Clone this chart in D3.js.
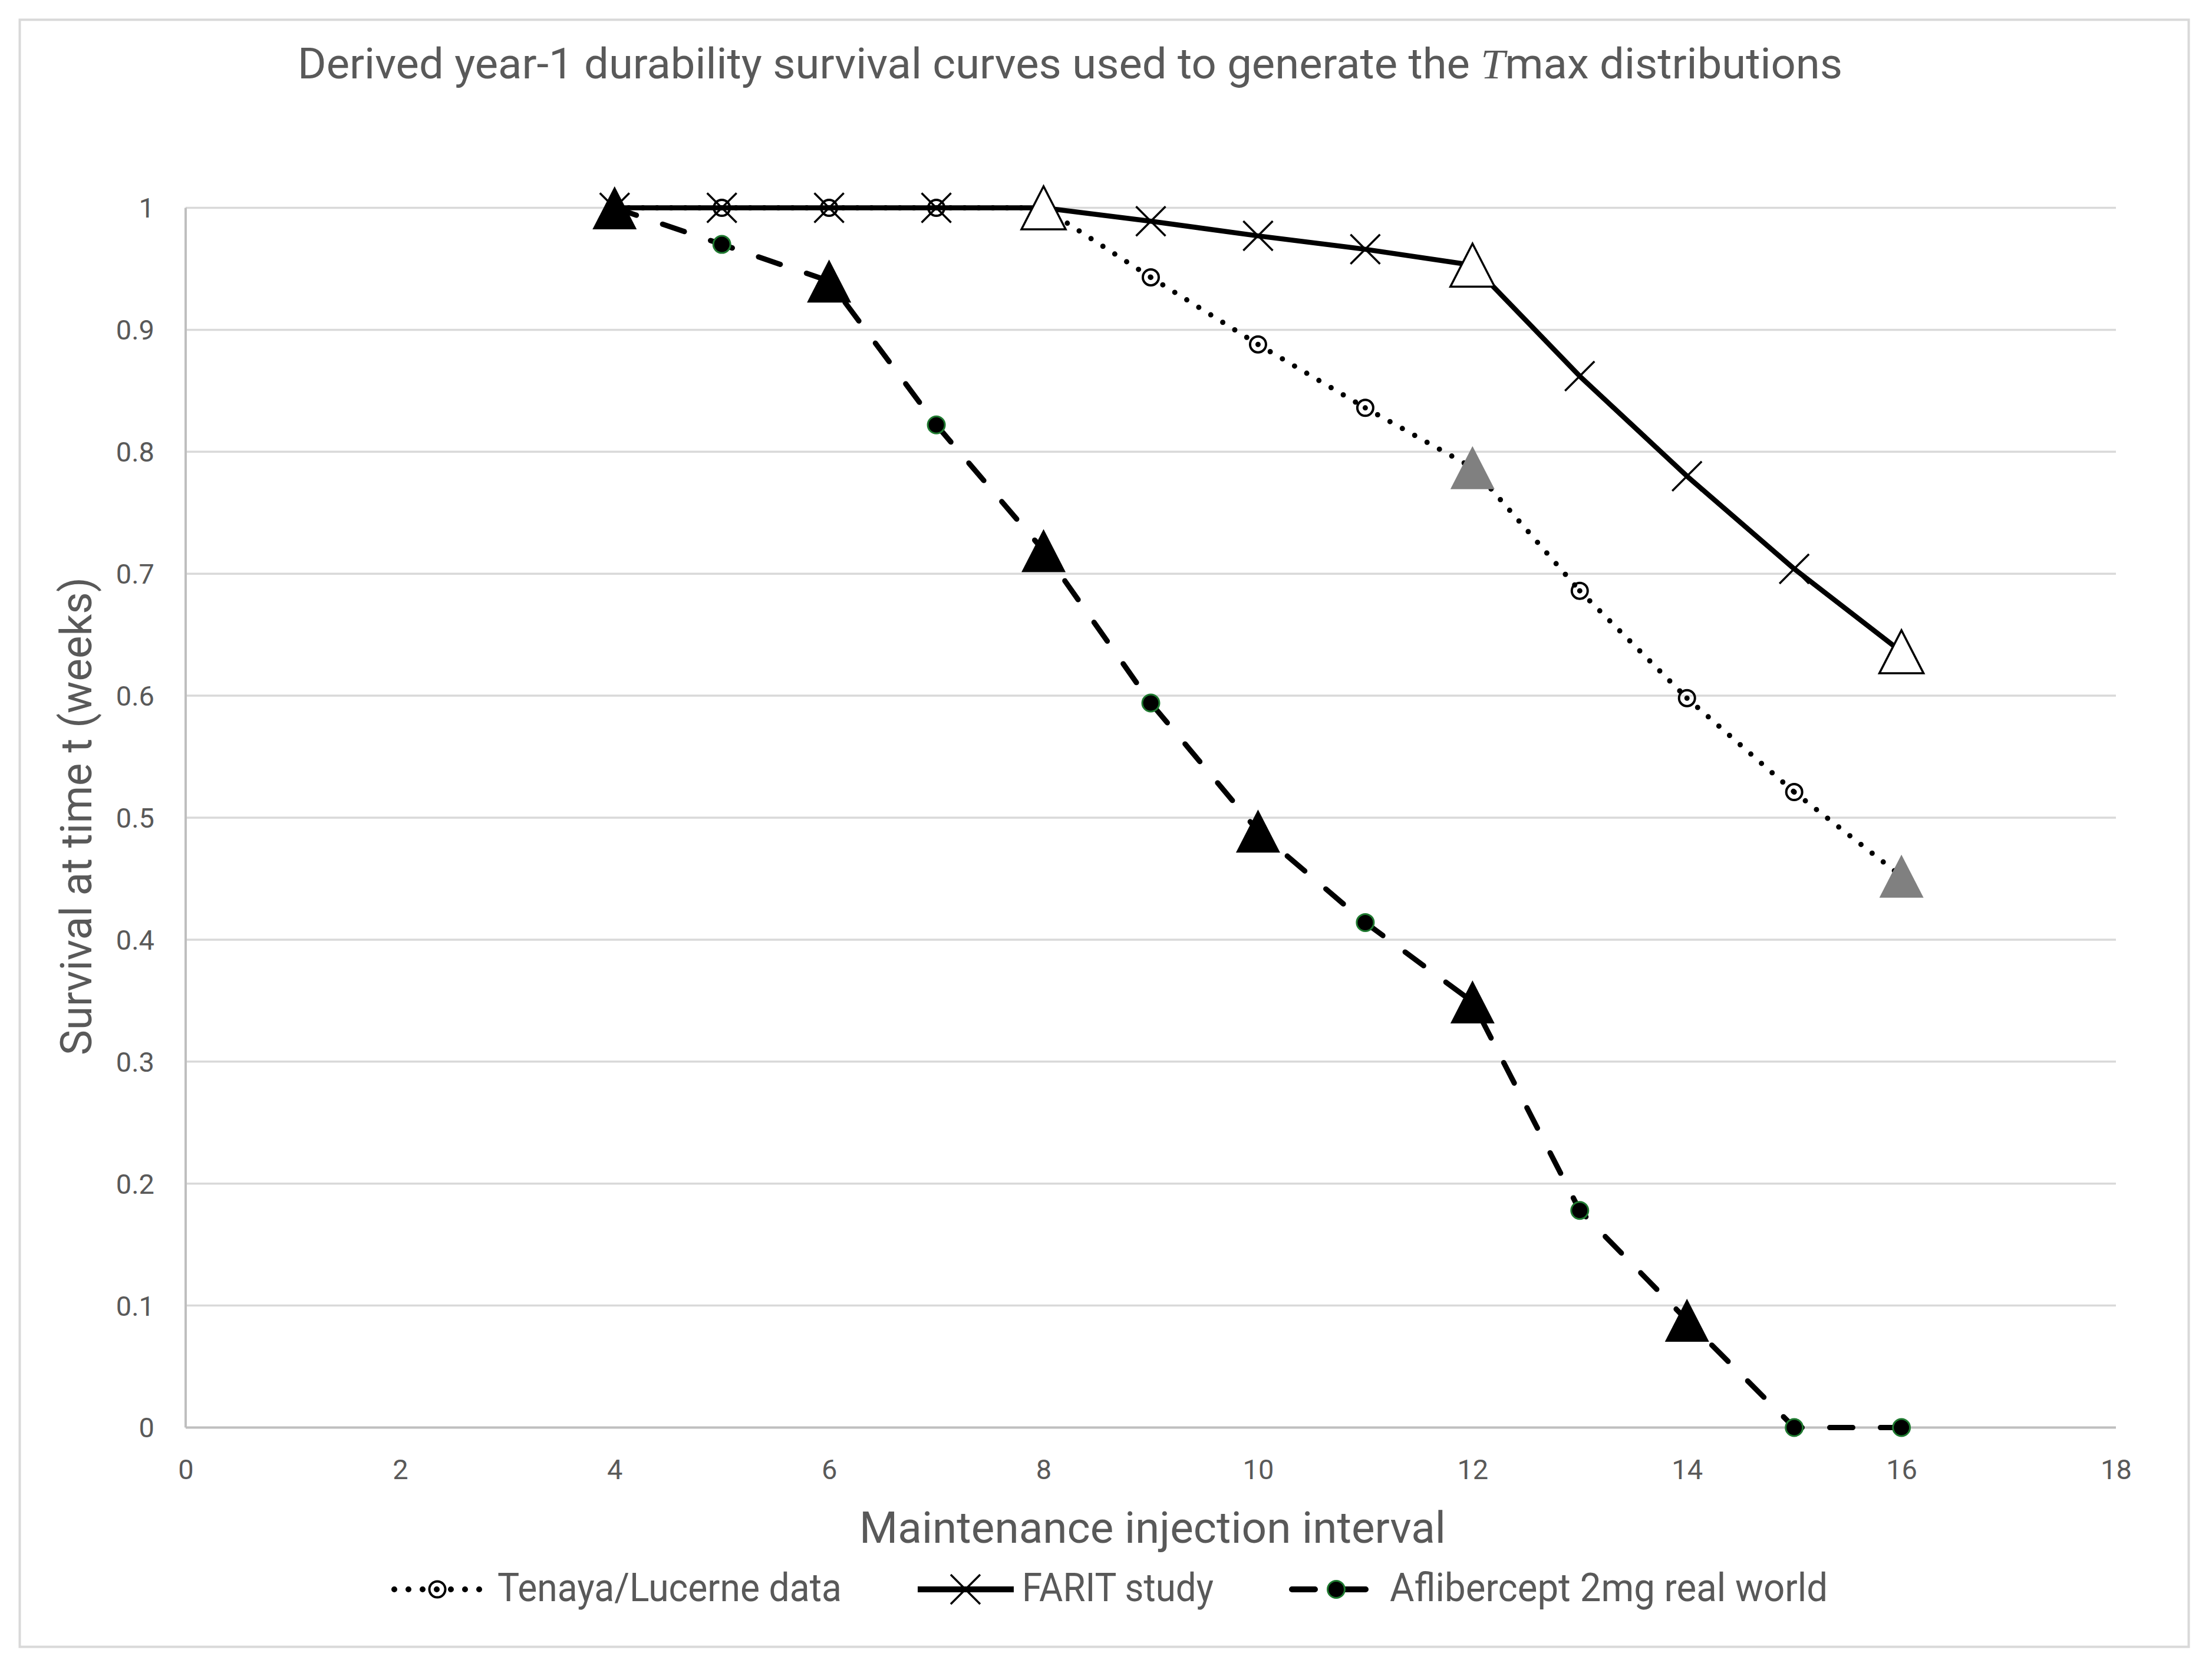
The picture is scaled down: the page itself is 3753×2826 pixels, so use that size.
<!DOCTYPE html>
<html>
<head>
<meta charset="utf-8">
<script src="https://cdn.jsdelivr.net/npm/d3@7"></script>
<style>
html,body{margin:0;padding:0;background:#fff;}
svg{display:block;}
</style>
</head>
<body>
<svg id="chart" width="3753" height="2826"></svg>
<script>
// ---------------- data ----------------
const xValues        = [4, 5, 6, 7, 8, 9, 10, 11, 12, 13, 14, 15, 16];
const tenayaValues   = [1, 1, 1, 1, 1, 0.943, 0.888, 0.836, 0.787, 0.686, 0.598, 0.521, 0.452];
const faritValues    = [1, 1, 1, 1, 1, 0.989, 0.977, 0.966, 0.953, 0.862, 0.780, 0.704, 0.636];
const aflibValues    = [1, 0.970, 0.940, 0.822, 0.719, 0.594, 0.489, 0.414, 0.349, 0.178, 0.088, 0, 0];
const tenayaTriangleX = [12, 16];
const faritTriangleX  = [8, 12, 16];
const aflibTriangleX  = [4, 6, 8, 10, 12, 14];
const seriesNames = ["Tenaya/Lucerne data", "FARIT study", "Aflibercept 2mg real world"];
const xTicks = [0, 2, 4, 6, 8, 10, 12, 14, 16, 18];
const yTicks = [0, 0.1, 0.2, 0.3, 0.4, 0.5, 0.6, 0.7, 0.8, 0.9, 1];
const titleBefore = "Derived year-1 durability survival curves used to generate the ";
const titleItalic = "T";
const titleAfter  = "max distributions";
const xAxisTitle = "Maintenance injection interval";
const yAxisTitle = "Survival at time t (weeks)";

// ---------------- layout ----------------
const W = 3753, H = 2826;
const plot = {left: 315, right: 3590, top: 352.5, bottom: 2421.5};
const FONT = "Roboto, 'Liberation Sans', sans-serif";
const TEXT_COLOR = "#595959";

const svg = d3.select("#chart");
svg.append("rect").attr("width", W).attr("height", H).attr("fill", "#fff");
svg.append("rect")
  .attr("x", 33.5).attr("y", 33.5).attr("width", 3680).attr("height", 2760)
  .attr("fill", "none").attr("stroke", "#d9d9d9").attr("stroke-width", 4);

const x = d3.scaleLinear().domain([0, 18]).range([plot.left, plot.right]);
const y = d3.scaleLinear().domain([0, 1]).range([plot.bottom, plot.top]);

// gridlines
svg.append("g").selectAll("line").data(yTicks.filter(d => d > 0)).join("line")
  .attr("x1", plot.left).attr("x2", plot.right)
  .attr("y1", d => y(d)).attr("y2", d => y(d))
  .attr("stroke", "#d9d9d9").attr("stroke-width", 3.5);

// axis lines
svg.append("line").attr("x1", plot.left).attr("x2", plot.right)
  .attr("y1", y(0)).attr("y2", y(0)).attr("stroke", "#bfbfbf").attr("stroke-width", 4);
svg.append("line").attr("x1", plot.left).attr("x2", plot.left)
  .attr("y1", y(0)).attr("y2", y(1)).attr("stroke", "#bfbfbf").attr("stroke-width", 4);

// axes (labels only)
const fmt = d3.format("~g");
const gx = svg.append("g").attr("transform", `translate(0,${plot.bottom})`)
  .call(d3.axisBottom(x).tickValues(xTicks).tickFormat(fmt).tickSize(0));
gx.select(".domain").remove();
gx.selectAll("text").attr("dy", null).attr("y", 87)
  .attr("font-family", FONT).attr("font-size", 47).attr("fill", TEXT_COLOR);

const gy = svg.append("g").attr("transform", `translate(${plot.left},0)`)
  .call(d3.axisLeft(y).tickValues(yTicks).tickFormat(fmt).tickSize(0));
gy.select(".domain").remove();
gy.selectAll("text").attr("x", -53).attr("dy", "0.35em")
  .attr("font-family", FONT).attr("font-size", 47).attr("fill", TEXT_COLOR);

// titles
const title = svg.append("text").attr("x", 505).attr("y", 133)
  .attr("font-family", FONT).attr("font-size", 72).attr("fill", TEXT_COLOR)
  .attr("textLength", 2621).attr("lengthAdjust", "spacingAndGlyphs");
title.append("tspan").text(titleBefore);
title.append("tspan").attr("font-family", "'Liberation Serif', 'DejaVu Serif', serif")
  .attr("font-style", "italic").text(titleItalic);
title.append("tspan").text(titleAfter);

svg.append("text").attr("x", 1458).attr("y", 2617)
  .attr("font-family", FONT).attr("font-size", 74).attr("fill", TEXT_COLOR)
  .attr("textLength", 995).attr("lengthAdjust", "spacingAndGlyphs")
  .text(xAxisTitle);

svg.append("text").attr("transform", "translate(155,1790) rotate(-90)")
  .attr("font-family", FONT).attr("font-size", 74).attr("fill", TEXT_COLOR)
  .attr("textLength", 811).attr("lengthAdjust", "spacingAndGlyphs")
  .text(yAxisTitle);

// ---------------- series ----------------
const toPts = vals => xValues.map((xv, i) => ({x: xv, y: vals[i]}));
const tenaya = toPts(tenayaValues), farit = toPts(faritValues), aflib = toPts(aflibValues);
const line = d3.line().x(d => x(d.x)).y(d => y(d.y));

const gLines = svg.append("g");
// Tenaya: dotted, pattern restarts at every point
d3.pairs(tenaya).forEach(([a, b]) => {
  gLines.append("path").attr("d", line([a, b]))
    .attr("fill", "none").attr("stroke", "#000").attr("stroke-width", 9)
    .attr("stroke-linecap", "round").attr("stroke-dasharray", "0,24");
});
gLines.append("path").attr("d", line(farit))
  .attr("fill", "none").attr("stroke", "#000").attr("stroke-width", 8.5)
  .attr("stroke-linejoin", "round");
gLines.append("path").attr("d", line(aflib))
  .attr("fill", "none").attr("stroke", "#000").attr("stroke-width", 9)
  .attr("stroke-linecap", "round").attr("stroke-dasharray", "39,47");

const triPath = "M0,-36.5L37.5,36.5L-37.5,36.5Z";
const xPath = "M-25,-25L25,25M-25,25L25,-25";

function drawCircleMarker(g, cx, cy) {
  g.append("circle").attr("cx", cx).attr("cy", cy).attr("r", 13.5)
    .attr("fill", "none").attr("stroke", "#000").attr("stroke-width", 4);
}
function drawX(g, cx, cy) {
  g.append("path").attr("d", xPath).attr("transform", `translate(${cx},${cy})`)
    .attr("fill", "none").attr("stroke", "#000").attr("stroke-width", 3.5);
}
function drawGreen(g, cx, cy) {
  g.append("circle").attr("cx", cx).attr("cy", cy).attr("r", 14.5)
    .attr("fill", "#000").attr("stroke", "#1f7a30").attr("stroke-width", 3);
}
function drawTri(g, cx, cy, fill, stroke) {
  g.append("path").attr("d", triPath).attr("transform", `translate(${cx},${cy})`)
    .attr("fill", fill).attr("stroke", stroke || "none").attr("stroke-width", stroke ? 3.5 : 0);
}

const gMarks = svg.append("g");
tenaya.forEach(d => {
  if (tenayaTriangleX.includes(d.x)) drawTri(gMarks, x(d.x), y(d.y), "#808080");
  else drawCircleMarker(gMarks, x(d.x), y(d.y));
});
farit.forEach(d => {
  if (faritTriangleX.includes(d.x)) drawTri(gMarks, x(d.x), y(d.y), "#fff", "#000");
  else drawX(gMarks, x(d.x), y(d.y));
});
aflib.forEach(d => {
  if (aflibTriangleX.includes(d.x)) drawTri(gMarks, x(d.x), y(d.y), "#000");
  else drawGreen(gMarks, x(d.x), y(d.y));
});

// ---------------- legend ----------------
const legendY = 2696;
const gLeg = svg.append("g");
// Tenaya
gLeg.append("line").attr("x1", 669).attr("x2", 815).attr("y1", legendY).attr("y2", legendY)
  .attr("stroke", "#000").attr("stroke-width", 10).attr("stroke-linecap", "round")
  .attr("stroke-dasharray", "0,24");
drawCircleMarker(gLeg, 742, legendY);
// FARIT
gLeg.append("line").attr("x1", 1557).attr("x2", 1720).attr("y1", legendY).attr("y2", legendY)
  .attr("stroke", "#000").attr("stroke-width", 10);
drawX(gLeg, 1638, legendY);
// Aflibercept
gLeg.append("line").attr("x1", 2192).attr("x2", 2346).attr("y1", legendY).attr("y2", legendY)
  .attr("stroke", "#000").attr("stroke-width", 10).attr("stroke-linecap", "round")
  .attr("stroke-dasharray", "39,47");
drawGreen(gLeg, 2267, legendY);

const legendText = [
  {name: seriesNames[0], x: 844, w: 584},
  {name: seriesNames[1], x: 1734, w: 325},
  {name: seriesNames[2], x: 2358, w: 743}
];
gLeg.selectAll("text.leg").data(legendText).join("text").attr("class", "leg")
  .attr("x", d => d.x).attr("y", 2716)
  .attr("font-family", FONT).attr("font-size", 66).attr("fill", TEXT_COLOR)
  .attr("textLength", d => d.w).attr("lengthAdjust", "spacingAndGlyphs")
  .text(d => d.name);
</script>
</body>
</html>
